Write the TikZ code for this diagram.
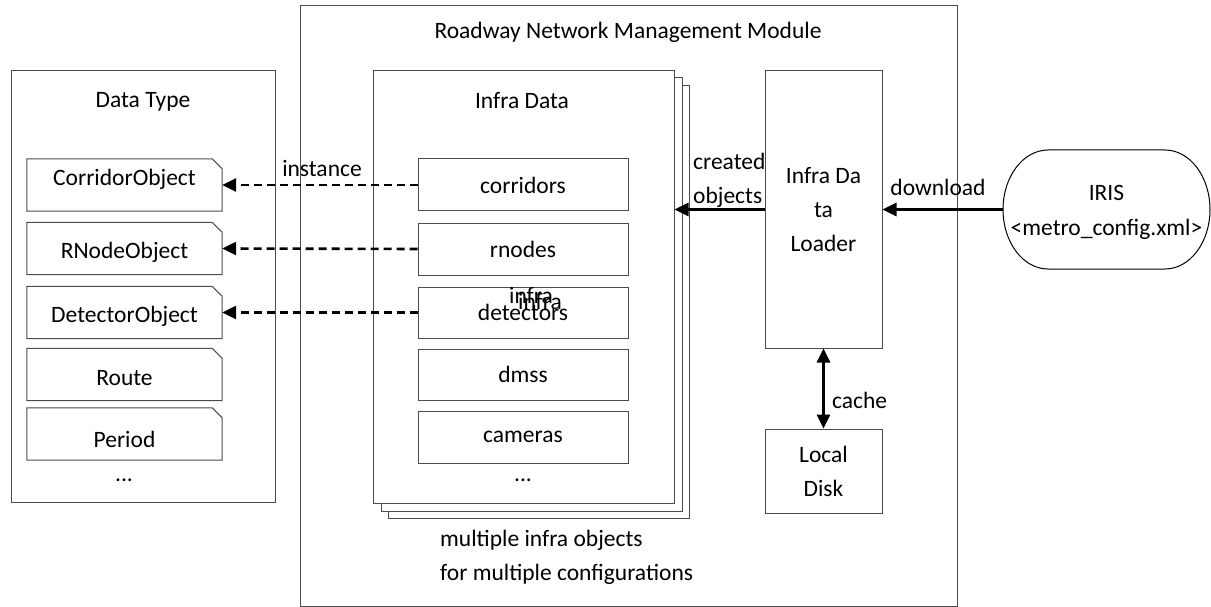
\documentclass[tikz,border=0pt]{standalone}
\usepackage{fontspec}
\setmainfont{Carlito}
\usetikzlibrary{arrows.meta,calc}
\begin{document}
\begin{tikzpicture}[x=1pt,y=-1pt,
  every node/.style={font=\fontsize{23.5}{34}\selectfont, inner sep=0pt},
  frame/.style={draw=black!70, line width=1pt, fill=white},
  itembox/.style={frame, minimum width=210pt, minimum height=52pt},
  typebox/.style={minimum width=195pt, minimum height=52pt},
  dasharrow/.style={line width=2.6pt, dash pattern=on 8pt off 5pt, -{Triangle[length=14pt,width=13pt]}},
  solidarrow/.style={line width=2.6pt, -{Triangle[length=14pt,width=13pt]}},
  biarrow/.style={line width=2.6pt, {Triangle[length=14pt,width=13pt]}-{Triangle[length=14pt,width=13pt]}}
]
\useasboundingbox (0,0) rectangle (1211,607);

% module frame
\node[frame, minimum width=657pt, minimum height=600pt] (module) at (628.5,306) {};
\node (moduletitle) at (628,32) {Roadway Network Management Module};

% data type frame
\node[frame, minimum width=264pt, minimum height=431pt] (datatype) at (143,286.5) {};
\node (datatitle) at (143,102) {Data Type};

% data type boxes with cut corner
\foreach \nm/\yy/\ts/\tx in {corrobj/185/6/CorridorObject, rnodeobj/248.5/-4/RNodeObject, detobj/312.5/-4/DetectorObject, route/374.5/-4/Route, period/434/-5/Period}{
  \node[typebox] (\nm) at (124.5,\yy) {};
  \draw[draw=black!70, line width=1pt, fill=white] (\nm.south west) -- (\nm.north west) -- ([xshift=-10pt]\nm.north east) -- ([yshift=-10pt]\nm.north east) -- (\nm.south east) -- cycle;
  \node at ([yshift=\ts pt]\nm.center) {\tx};
}
\node (dtdots) at (124,480) {...};

% infra data pages
\node[frame, minimum width=301pt, minimum height=432pt] (page3) at (538.5,302) {};
\node[frame, minimum width=301pt, minimum height=433pt] (page2) at (531.5,294.5) {};
\node[frame, minimum width=301pt, minimum height=432pt] (front) at (523.5,287) {};
\node (infratitle) at (522,101) {Infra Data};

\node[itembox] (corridors) at (523,185) {corridors};
\node[itembox, minimum height=52pt] (rnodes) at (523,249) {rnodes};
\node[itembox, minimum height=51pt] (detectors) at (523,312.5) {detectors};
\node[itembox, minimum height=51pt] (dmss) at (523,374.5) {dmss};
\node[itembox] (cameras) at (523,437) {cameras};
\node (idots) at (523,480) {...};

\node (infra1) at (531,296) {infra};
\node (infra2) at (540,302) {infra};

% loader and disk
\node[frame, minimum width=117pt, minimum height=277pt, align=center] (loader) at (823.5,209.5) {Infra Da\\ta\\Loader};
\node[frame, minimum width=117pt, minimum height=84pt, align=center] (disk) at (823.5,471) {Local\\Disk};

% IRIS
\node[minimum width=207pt, minimum height=119pt] (iris) at (1106.5,209.5) {};
\draw[line width=1pt, fill=white] (1048,150) -- (1165,150) arc[start angle=-90, end angle=90, x radius=45, y radius=59.5] -- (1048,269) arc[start angle=90, end angle=270, x radius=45, y radius=59.5] -- cycle;
\node[align=center, font=\fontsize{23.5}{35}\selectfont] (iristext) at (1106.5,212) {IRIS\\<metro\_config.xml>};

% labels
\node (instance) at (322,169) {instance};
\node[anchor=west, align=left] (created) at (693,180) {created\\objects};
\node (download) at (938,187) {download};
\node[anchor=west] (cache) at (832,400) {cache};
\node[anchor=west, align=left] (multi) at (440,557) {multiple infra objects\\for multiple configurations};

% connectors
\draw[dasharrow] (corridors.west) -- (corrobj.east);
\draw[dasharrow] (rnodes.west) -- (rnodeobj.east);
\draw[dasharrow] (detectors.west) -- (detobj.east);
\draw[solidarrow] (loader.west) -- (loader.west -| front.east);
\draw[solidarrow] (iris.west) -- (loader.east);
\draw[biarrow] (loader.south) -- (disk.north);
\end{tikzpicture}
\end{document}
